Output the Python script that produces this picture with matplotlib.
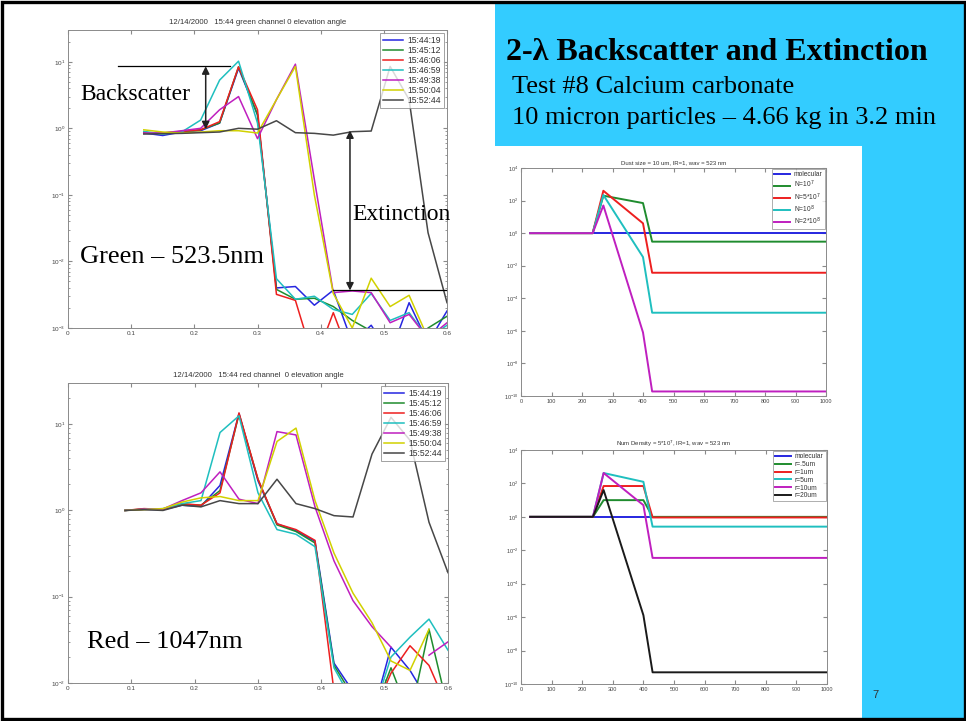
import numpy as np
import matplotlib.pyplot as plt
from matplotlib.patches import Rectangle
from matplotlib.ticker import FixedLocator, LogLocator, NullLocator, NullFormatter

# ---------------- data ----------------
legend_times = ['15:44:19', '15:45:12', '15:46:06', '15:46:59', '15:49:38', '15:50:04', '15:52:44']

# green channel (523.5 nm)
green_x = [0.12, 0.15, 0.18, 0.21, 0.24, 0.27, 0.30, 0.33, 0.36, 0.39, 0.42, 0.45, 0.48, 0.51, 0.54, 0.57, 0.60]
green_154419 = [0.85, 0.78, 0.88, 0.92, 1.2, 8.0, 1.6, 0.0040, 0.0042, 0.0022, 0.0037, 0.0006, 0.0011, 0.0004, 0.0024, 0.0006, 0.0018]
green_154512 = [0.85, 0.85, 0.88, 0.95, 1.2, 8.4, 1.6, 0.0038, 0.0027, 0.0028, 0.0021, 0.0013, 0.0009, 0.0005, 0.0005, 0.0010, 0.0015]
green_154606 = [0.85, 0.85, 0.90, 0.95, 1.26, 8.4, 1.9, 0.0032, 0.0026, 0.0003, 0.0017, 0.0003, 0.0003, 0.0003, 0.0003, 0.0003, 0.0003]
green_154659 = [0.90, 0.82, 0.88, 1.33, 5.3, 10.2, 1.2, 0.0055, 0.0027, 0.0030, 0.0019, 0.0016, 0.0033, 0.0013, 0.0017, 0.0007, 0.0011]
green_154938 = [0.85, 0.85, 0.92, 1.0, 1.9, 3.0, 0.7, 2.7, 9.2, 0.17, 0.0034, 0.0036, 0.0034, 0.0012, 0.0016, 0.0007, 0.0012]
green_155004 = [0.95, 0.88, 0.85, 0.88, 0.92, 0.92, 0.85, 2.7, 8.5, 0.10, 0.0033, 0.0010, 0.0056, 0.0021, 0.0031, 0.0007, 0.0006]
green_155244 = [0.82, 0.83, 0.84, 0.86, 0.88, 1.0, 0.97, 1.3, 0.86, 0.84, 0.79, 0.89, 0.91, 8.5, 2.7, 0.027, 0.0024]

# red channel (1047 nm)
red_x = [0.09, 0.12, 0.15, 0.18, 0.21, 0.24, 0.27, 0.30, 0.33, 0.36, 0.39, 0.42, 0.45, 0.48, 0.51, 0.54, 0.57, 0.60]
red_154419 = [1.0, 1.03, 1.02, 1.15, 1.12, 1.95, 13.3, 2.2, 0.70, 0.58, 0.44, 0.017, 0.008, 0.004, 0.026, 0.014, 0.006, 0.004]
red_154512 = [1.0, 1.04, 1.03, 1.18, 1.15, 1.7, 13.0, 2.3, 0.68, 0.57, 0.42, 0.016, 0.007, 0.004, 0.015, 0.004, 0.042, 0.005]
red_154606 = [1.0, 1.05, 1.03, 1.2, 1.15, 1.6, 13.5, 2.3, 0.70, 0.60, 0.45, 0.008, 0.004, 0.004, 0.013, 0.027, 0.016, 0.005]
red_154659 = [1.0, 1.03, 1.05, 1.2, 1.3, 8.0, 12.5, 1.6, 0.60, 0.53, 0.38, 0.015, 0.006, 0.004, 0.020, 0.034, 0.055, 0.024]
red_154938 = [1.0, 1.03, 1.04, 1.3, 1.6, 2.8, 1.35, 1.2, 8.2, 7.5, 1.1, 0.26, 0.09, 0.045, 0.026, np.nan, 0.021, 0.030]
red_155004 = [1.0, 1.02, 1.05, 1.25, 1.4, 1.45, 1.3, 1.3, 6.3, 9.0, 1.3, 0.32, 0.11, 0.05, 0.018, 0.014, 0.042, np.nan]
red_155244 = [1.0, 1.02, 1.0, 1.15, 1.1, 1.3, 1.2, 1.2, 2.3, 1.2, 1.05, 0.87, 0.84, 4.5, 12.0, 6.5, 0.73, 0.19]

# model: dust size = 10 um
model_x = [30, 235, 270, 400, 430, 1000]
dust_labels = ['molecular', 'N=10$^7$', 'N=5*10$^7$', 'N=10$^8$', 'N=2*10$^8$']
dust_molecular = [1, 1, 1, 1, 1, 1]
dust_N1e7 = [1, 1, 200, 70, 0.3, 0.3]
dust_N5e7 = [1, 1, 400, 4, 0.0037, 0.0037]
dust_N1e8 = [1, 1, 220, 0.034, 1.3e-5, 1.3e-5]
dust_N2e8 = [1, 1, 50, 8e-7, 1.9e-10, 1.9e-10]

# model: num density = 5*10^7
size_labels = ['molecular', 'r=.5um', 'r=1um', 'r=5um', 'r=10um', 'r=20um']
size_molecular = [1, 1, 1, 1, 1, 1]
size_r05 = [1, 1, 10, 10, 1, 1]
size_r1 = [1, 1, 70, 70, 0.92, 0.92]
size_r5 = [1, 1, 420, 125, 0.26, 0.26]
size_r10 = [1, 1, 420, 5, 0.0035, 0.0035]
size_r20 = [1, 1, 40, 1.3e-6, 5e-10, 5e-10]

# ---------------- style ----------------
C_B = (0.15, 0.15, 0.88)
C_G = (0.12, 0.55, 0.18)
C_R = (0.93, 0.12, 0.12)
C_C = (0.12, 0.75, 0.75)
C_M = (0.75, 0.12, 0.75)
C_Y = (0.82, 0.82, 0.0)
C_K = (0.28, 0.28, 0.28)
SEVEN = [C_B, C_G, C_R, C_C, C_M, C_Y, C_K]
CYAN = '#33ccff'
SERIF = 'Liberation Serif'
SANS = 'Liberation Sans'

W, H = 966, 721
fig = plt.figure(figsize=(W / 100, H / 100), dpi=100)
fig.patch.set_facecolor('white')


def box(l, t, r, b):
    return [l / W, 1 - b / H, (r - l) / W, (b - t) / H]


def rect(l, t, r, b, **kw):
    fig.patches.append(Rectangle((l / W, 1 - b / H), (r - l) / W, (b - t) / H,
                                 transform=fig.transFigure, **kw))


rect(495, 3, 964, 146, facecolor=CYAN, edgecolor='none', zorder=-5)
rect(862, 3, 964, 718, facecolor=CYAN, edgecolor='none', zorder=-5)
rect(1.5, 1.5, 964.5, 719, facecolor='none', edgecolor='black', linewidth=2.4, zorder=20)


def style_axes(ax, labelsize=4.6):
    for s in ax.spines.values():
        s.set_color('#8a8a8a')
        s.set_linewidth(0.7)
    ax.tick_params(which='both', direction='in', top=True, right=True,
                   colors='#8a8a8a', labelcolor='#444444', labelsize=labelsize, pad=2)
    ax.tick_params(which='major', length=3)
    ax.tick_params(which='minor', length=1.6)
    for lab in ax.get_xticklabels() + ax.get_yticklabels():
        lab.set_fontfamily(SANS)


def left_plot(ax, xs, series, ylim, title):
    for ys, c, lab in zip(series, SEVEN, legend_times):
        ax.plot(xs, ys, color=c, lw=1.1, label=lab)
    ax.set_yscale('log')
    ax.set_xlim(0, 0.6)
    ax.set_ylim(*ylim)
    ax.xaxis.set_major_locator(FixedLocator([0, 0.1, 0.2, 0.3, 0.4, 0.5, 0.6]))
    ax.set_xticklabels(['0', '0.1', '0.2', '0.3', '0.4', '0.5', '0.6'])
    ax.yaxis.set_major_locator(LogLocator(base=10, numticks=20))
    ax.yaxis.set_minor_locator(LogLocator(base=10, subs=np.arange(2, 10), numticks=20))
    ax.yaxis.set_minor_formatter(NullFormatter())
    style_axes(ax)
    ax.set_title(title, fontsize=5.6, family=SANS, color='#333333', pad=4)
    leg = ax.legend(loc='upper right', frameon=True, fancybox=False,
                    edgecolor='#8a8a8a', handlelength=2.4, handletextpad=0.5,
                    labelspacing=0.12, borderpad=0.35, borderaxespad=0.3,
                    prop={'family': SANS, 'size': 6.2})
    leg.get_frame().set_linewidth(0.7)
    for t in leg.get_texts():
        t.set_color('#333333')


def right_plot(ax, xs, series, colors, labels, title):
    for ys, c, lab in zip(series, colors, labels):
        ax.plot(xs, ys, color=c, lw=1.4, label=lab)
    ax.set_yscale('log')
    ax.set_xlim(0, 1000)
    ax.set_ylim(1e-10, 1e4)
    ax.xaxis.set_major_locator(FixedLocator(list(range(0, 1001, 100))))
    ax.yaxis.set_major_locator(FixedLocator([1e-10, 1e-8, 1e-6, 1e-4, 1e-2, 1e0, 1e2, 1e4]))
    ax.yaxis.set_minor_locator(NullLocator())
    style_axes(ax, labelsize=4.0)
    ax.set_title(title, fontsize=4.3, family=SANS, color='#333333', pad=3)
    leg = ax.legend(loc='upper right', frameon=True, fancybox=False,
                    edgecolor='#8a8a8a', handlelength=2.4, handletextpad=0.6,
                    labelspacing=0.12, borderpad=0.3, borderaxespad=0.2,
                    prop={'family': SANS, 'size': 4.8})
    leg.get_frame().set_linewidth(0.6)
    for t in leg.get_texts():
        t.set_color('#333333')


ax_g = fig.add_axes(box(68, 30, 447, 328))
left_plot(ax_g, green_x,
          [green_154419, green_154512, green_154606, green_154659, green_154938, green_155004, green_155244],
          (1e-3, 30), '12/14/2000   15:44 green channel 0 elevation angle')

ax_r = fig.add_axes(box(68, 383, 448, 683))
left_plot(ax_r, red_x,
          [red_154419, red_154512, red_154606, red_154659, red_154938, red_155004, red_155244],
          (1e-2, 30), '12/14/2000   15:44 red channel  0 elevation angle')

ax_d = fig.add_axes(box(521, 168, 826, 396))
right_plot(ax_d, model_x, [dust_molecular, dust_N1e7, dust_N5e7, dust_N1e8, dust_N2e8],
           [C_B, C_G, C_R, C_C, C_M], dust_labels, 'Dust size = 10 um, IR=1, wav = 523 nm')

ax_n = fig.add_axes(box(521, 450, 827, 684))
right_plot(ax_n, model_x, [size_molecular, size_r05, size_r1, size_r5, size_r10, size_r20],
           [C_B, C_G, C_R, C_C, C_M, (0.1, 0.1, 0.1)], size_labels,
           'Num Density = 5*10$^7$, IR=1, wav = 523 nm')

# ---------------- annotations on the green plot ----------------
ax_g.plot([0.079, 0.256], [8.55, 8.55], color='black', lw=0.9, clip_on=False, zorder=6)
ax_g.annotate('', xy=(0.218, 8.55), xytext=(0.218, 0.97), xycoords='data',
              arrowprops=dict(arrowstyle='<|-|>', color='#222222', lw=1.1, mutation_scale=11,
                              shrinkA=0, shrinkB=0), zorder=6)
ax_g.plot([0.4195, 0.598], [0.00366, 0.00366], color='black', lw=0.9, clip_on=False, zorder=6)
ax_g.annotate('', xy=(0.4464, 0.93), xytext=(0.4464, 0.00366), xycoords='data',
              arrowprops=dict(arrowstyle='<|-|>', color='#222222', lw=1.1, mutation_scale=11,
                              shrinkA=0, shrinkB=0), zorder=6)


def ftext(x, y, s, size, **kw):
    fig.text(x / W, 1 - y / H, s, fontsize=size, family=SERIF, color='black',
             ha='left', va='center', zorder=15, **kw)


ftext(80, 95, 'Backscatter', 17)
ftext(352, 215, 'Extinction', 17)
ftext(80, 257, 'Green \u2013 523.5nm', 19)
ftext(87, 642, 'Red \u2013 1047nm', 19)

ftext(506, 52, '2-\u03bb Backscatter and Extinction', 23, fontweight='bold')
ftext(512, 87, 'Test #8 Calcium carbonate', 19)
ftext(512, 118, '10 micron particles \u2013 4.66 kg in 3.2 min', 19)

fig.text(872 / W, 1 - 695 / H, '7', fontsize=8, family=SANS, color='#333333',
         ha='left', va='center', zorder=15)

fig.savefig('out.png', dpi=100, facecolor='white')
